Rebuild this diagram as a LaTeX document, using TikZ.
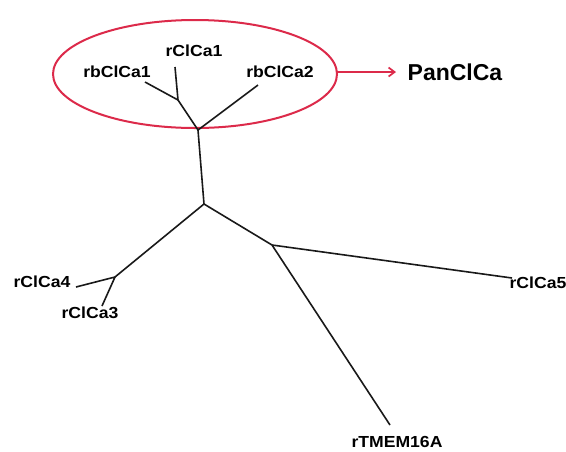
\documentclass[tikz,border=0pt]{standalone}
\usepackage{fontspec}
\setmainfont{Liberation Sans}
\usetikzlibrary{arrows.meta}
\definecolor{ovalred}{HTML}{DC2A4A}
\newcommand{\wide}[1]{\scalebox{1.1}[1]{#1}}
\begin{document}
\begin{tikzpicture}[x=1pt,y=-1pt,
  branch/.style={line width=1.6pt,black!90},
  leaf/.style={font=\fontsize{16}{18}\selectfont\bfseries,inner sep=0pt},
  oval/.style={draw=ovalred,line width=2pt}]
\useasboundingbox (0,0) rectangle (566,451);
% clade oval
\draw[oval] (195,74) ellipse [x radius=142, y radius=54];
\coordinate (ovr) at (337,72);
\node[font=\fontsize{23}{26}\selectfont\bfseries,inner sep=0pt] (pan) at (455,72) {PanClCa};
\draw[ovalred,line width=1.7pt,-{Straight Barb[length=6pt,width=9pt]}] (ovr) -- (396,72);
% tree internal nodes
\coordinate (j1) at (198,130);
\coordinate (j2) at (178,100);
\coordinate (j3) at (204,204);
\coordinate (j4) at (115,277);
\coordinate (j5) at (272,245);
% leaf tips
\coordinate (t1) at (145,82);
\coordinate (t2) at (175,67);
\coordinate (t3) at (258,85);
\coordinate (t4) at (76,287);
\coordinate (t5) at (102,306);
\coordinate (t6) at (512,278);
\coordinate (t7) at (390,425);
% labels
\node[leaf] (l1) at (117,72) {\wide{rbClCa1}};
\node[leaf] (l2) at (194,51) {\wide{rClCa1}};
\node[leaf] (l3) at (280,72) {\wide{rbClCa2}};
\node[leaf] (l4) at (42,282) {\wide{rClCa4}};
\node[leaf] (l5) at (90,313) {\wide{rClCa3}};
\node[leaf] (l6) at (538,283) {\wide{rClCa5}};
\node[leaf] (l7) at (397,442) {\wide{rTMEM16A}};
% branches
\draw[branch] (t1) -- (j2) -- (t2);
\draw[branch] (j2) -- (j1) -- (t3);
\draw[branch] (j1) -- (j3);
\draw[branch] (j3) -- (j4);
\draw[branch] (t4) -- (j4) -- (t5);
\draw[branch] (j3) -- (j5);
\draw[branch] (j5) -- (t6);
\draw[branch] (j5) -- (t7);
\end{tikzpicture}
\end{document}
